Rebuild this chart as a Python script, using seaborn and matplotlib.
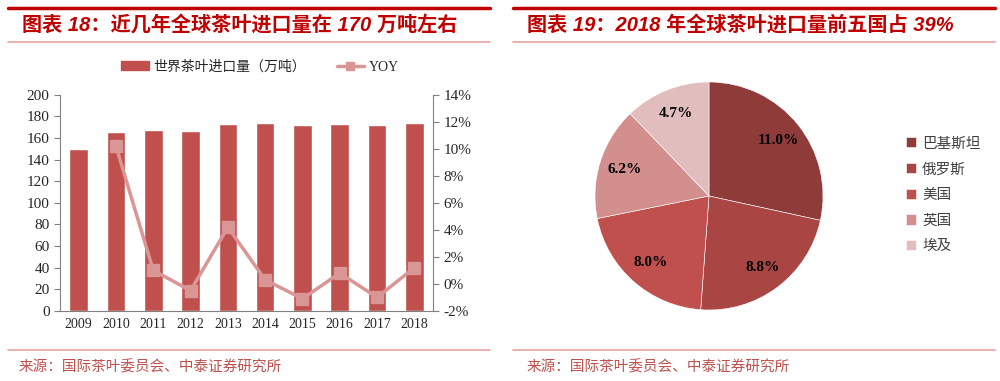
import matplotlib
matplotlib.use('Agg')
import matplotlib.pyplot as plt
from matplotlib.patches import Patch
from matplotlib.lines import Line2D
from matplotlib.ticker import FuncFormatter, MultipleLocator, FixedLocator
import seaborn as sns
import numpy as np
import pandas as pd

# datos
years = ['2009', '2010', '2011', '2012', '2013', '2014', '2015', '2016', '2017', '2018']
imports = [150.2, 165.4, 167.2, 166.3, 173.4, 174.0, 172.2, 173.4, 171.9, 173.7]
yoy = [10.2, 1.0, -0.5, 4.2, 0.3, -1.1, 0.8, -1.0, 1.2]  # % desde 2010

countries = ['巴基斯坦', '俄罗斯', '美国', '英国', '埃及']
shares = [11.0, 8.8, 8.0, 6.2, 4.7]

bar_color = '#C0504D'
line_color = '#D99694'
pie_colors = ['#8E3B39', '#A94644', '#C0504D', '#D38F8E', '#E2BDBD']
red = '#C00000'
pink = '#E8A3A3'

sns.set_style('white')
plt.rcParams['font.family'] = ['Liberation Serif', 'Noto Sans CJK SC']
plt.rcParams['axes.unicode_minus'] = False

fig = plt.figure(figsize=(10, 3.81), dpi=100)

# cabeceras y pies
title_font = ['Liberation Sans', 'Noto Sans CJK SC']
for x0, x1, tx, sx, title in [(0.008, 0.49, 0.022, 0.019, '图表 18：近几年全球茶叶进口量在 170 万吨左右'),
                              (0.513, 0.995, 0.527, 0.527, '图表 19：2018 年全球茶叶进口量前五国占 39%')]:
    fig.add_artist(Line2D([x0, x1], [1 - 8 / 381] * 2, color=red, lw=2.5))
    fig.add_artist(Line2D([x0, x1], [1 - 42 / 381] * 2, color=pink, lw=1.2))
    fig.add_artist(Line2D([x0, x1], [1 - 350 / 381] * 2, color=pink, lw=1.2))
    fig.text(tx, 1 - 25 / 381, title, color=red, fontsize=14.5, fontweight='bold',
             fontstyle='italic', family=title_font, va='center', ha='left')
    fig.text(sx, 1 - 367 / 381, '来源：国际茶叶委员会、中泰证券研究所',
             color='#C0504D', fontsize=10.5, va='center', ha='left')

# grafico de barras
ax = fig.add_axes([0.06, 0.184, 0.373, 0.567])
df = pd.DataFrame({'year': years, 'imports': imports})
sns.barplot(data=df, x='year', y='imports', color=bar_color, width=0.5, saturation=1, ax=ax)
ax.set_ylim(0, 200)
ax.set_xlim(-0.5, len(years) - 0.5)
ax.yaxis.set_major_locator(MultipleLocator(20))
ax.set_xlabel('')
ax.set_ylabel('')
ax.tick_params(axis='x', which='major', length=0, labelsize=10, pad=5)
ax.xaxis.set_minor_locator(FixedLocator(np.arange(-0.5, len(years), 1)))
ax.tick_params(axis='x', which='minor', length=4, color='#808080', direction='out')
ax.tick_params(axis='y', length=4, color='#808080', direction='out', labelsize=11, left=True)
for s in ['top', 'right']:
    ax.spines[s].set_visible(False)
for s in ['left', 'bottom']:
    ax.spines[s].set_color('#808080')

ax2 = ax.twinx()
ax2.plot(range(1, len(years)), yoy, color=line_color, lw=2.5, marker='s', markersize=8,
         markerfacecolor=line_color, markeredgecolor=line_color)
ax2.set_ylim(-2, 14)
ax2.yaxis.set_major_locator(MultipleLocator(2))
ax2.yaxis.set_major_formatter(FuncFormatter(lambda v, p: f'{v:.0f}%'))
ax2.tick_params(axis='y', length=4, color='#808080', direction='out', labelsize=11, right=True)
for s in ['top', 'left', 'bottom']:
    ax2.spines[s].set_visible(False)
ax2.spines['right'].set_color('#808080')

handles = [Patch(color=bar_color, label='世界茶叶进口量（万吨）'),
           Line2D([], [], color=line_color, lw=2.5, marker='s', markersize=6, label='YOY')]
fig.legend(handles=handles, loc='center', bbox_to_anchor=(0.26, 1 - 67 / 381), ncol=2,
           frameon=False, fontsize=10, handlelength=2.0, handleheight=0.6, columnspacing=2.2,
           handletextpad=0.3)

# grafico de tarta
axp = fig.add_axes([0.595, 1 - 310 / 381, 0.228, 228 / 381])
total = sum(shares)
wedges, texts, autotexts = axp.pie(shares, colors=pie_colors, startangle=90, counterclock=False,
                                   autopct=lambda p: f'{p * total / 100:.1f}%', pctdistance=0.78,
                                   wedgeprops={'linewidth': 0.4, 'edgecolor': 'white'},
                                   textprops={'fontsize': 11, 'fontweight': 'bold', 'color': 'black'})
axp.set_xlim(-1, 1)
axp.set_ylim(-1, 1)
axp.set_aspect('equal')
fig.legend(wedges, countries, loc='upper left', bbox_to_anchor=(0.893, 1 - 124 / 381), frameon=False,
           fontsize=10.5, handlelength=0.7, handleheight=0.7, labelspacing=0.85, handletextpad=0.4,
           labelcolor='#404040')

fig.savefig('out.png', dpi=100)
